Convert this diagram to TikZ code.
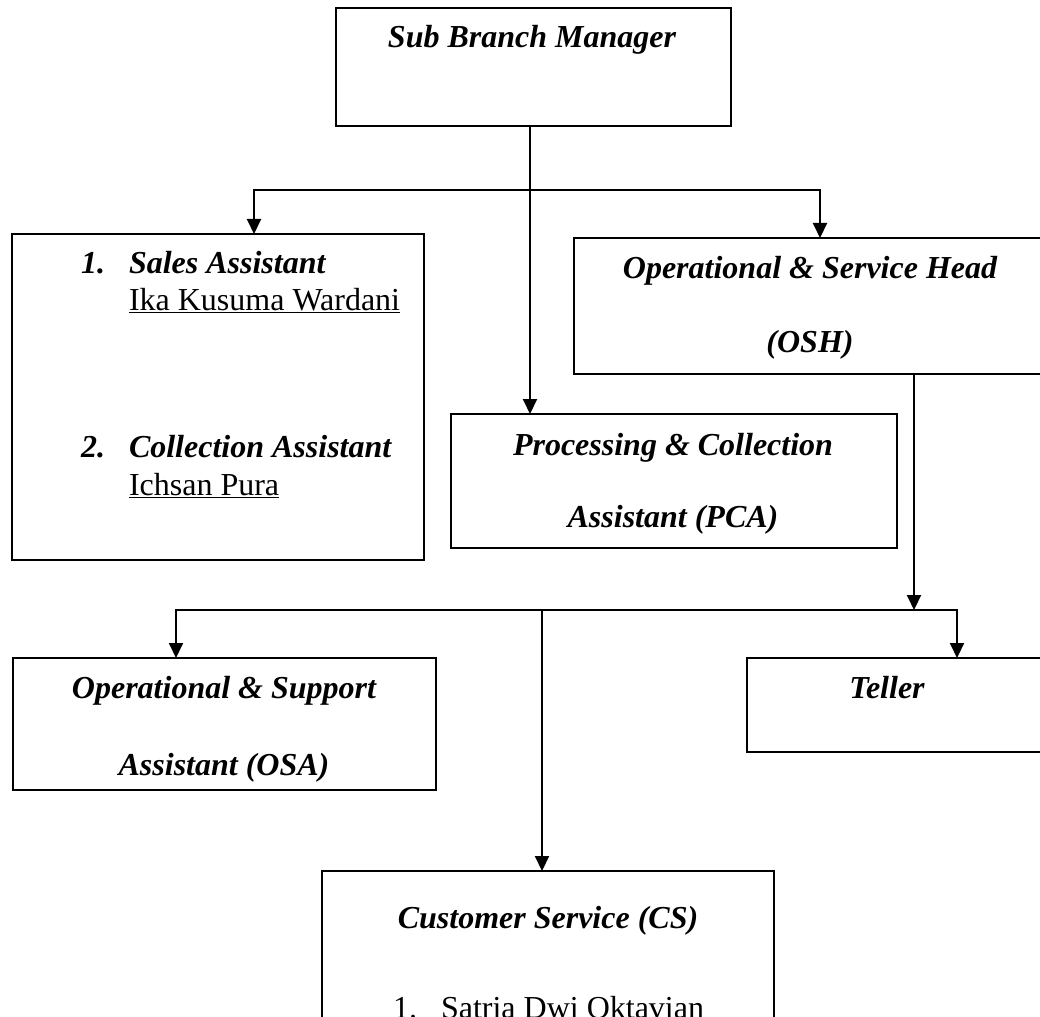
\documentclass[tikz,border=0pt]{standalone}
\usepackage{fontspec}
\setmainfont{Liberation Serif}
\usetikzlibrary{arrows.meta, positioning, calc}

\tikzset{
    unit/.style={draw, rectangle, inner sep=0pt, outer sep=0pt, anchor=north west},
    title/.style={font=\fontsize{32}{37}\selectfont\bfseries\itshape, inner sep=0pt, anchor=base},
    titlew/.style={title, anchor=base west},
    person/.style={font=\fontsize{32}{37}\selectfont, inner sep=0pt, anchor=base west}
}

\begin{document}
\begin{tikzpicture}[>={Triangle[width=14pt, length=15pt]}, x=1pt, y=1pt, line width=2pt]
    \useasboundingbox (0,0) rectangle (1040,-1016);
    \clip (0,0) rectangle (1040,-1016);

    % units (boxes)
    \node[unit, minimum width=395pt, minimum height=118pt] (sbm) at (336,-8) {};
    \node[unit, minimum width=412pt, minimum height=326pt] (sales) at (12,-234) {};
    \node[unit, minimum width=480pt, minimum height=136pt] (osh) at (574,-238) {};
    \node[unit, minimum width=446pt, minimum height=134pt] (pca) at (451,-414) {};
    \node[unit, minimum width=423pt, minimum height=132pt] (osa) at (13,-658) {};
    \node[unit, minimum width=310pt, minimum height=94pt] (teller) at (747,-658) {};
    \node[unit, minimum width=452pt, minimum height=200pt] (cs) at (322,-871) {};

    % texts
    \node[title] (sbmtxt) at (532,-48) {Sub Branch Manager};
    \node[titlew] (salesnum) at (80,-273) {1.};
    \node[titlew] (salestxt) at (128,-273) {Sales Assistant};
    \node[person] (salesname) at (128,-310) {\underline{Ika Kusuma Wardani}};
    \node[titlew] (collnum) at (80,-457) {2.};
    \node[titlew] (colltxt) at (128,-457) {Collection Assistant};
    \node[person] (collname) at (128,-495) {\underline{Ichsan Pura}};
    \node[title] (oshtxt) at (810,-278) {Operational \& Service Head};
    \node[title] (oshabbr) at (810,-352) {(OSH)};
    \node[title] (pcatxt) at (673,-455) {Processing \& Collection};
    \node[title] (pcaabbr) at (673,-527) {Assistant (PCA)};
    \node[title] (osatxt) at (224,-698) {Operational \& Support};
    \node[title] (osaabbr) at (224,-775) {Assistant (OSA)};
    \node[title] (tellertxt) at (887,-698) {Teller};
    \node[title] (cstxt) at (548,-928) {Customer Service (CS)};
    \node[person] (csnum) at (392,-1018) {1.};
    \node[person] (csname) at (440,-1018) {Satria Dwi Oktavian};

    % bus points
    \coordinate (b1l) at (254,-190);
    \coordinate (b1m) at (530,-190);
    \coordinate (b1r) at (820,-190);
    \coordinate (b2l) at (176,-610);
    \coordinate (b2m) at (542,-610);
    \coordinate (b2o) at (914,-610);
    \coordinate (b2r) at (957,-610);

    % connectors
    \draw[->] (sbm.south -| b1m) -- (b1m |- pca.north);
    \draw[<->] (b1l |- sales.north) -- (b1l) -- (b1r) -- (b1r |- osh.north);
    \draw[->] (osh.south -| b2o) -- (b2o);
    \draw[<->] (b2l |- osa.north) -- (b2l) -- (b2r) -- (b2r |- teller.north);
    \draw[->] (b2m) -- (b2m |- cs.north);
\end{tikzpicture}
\end{document}
